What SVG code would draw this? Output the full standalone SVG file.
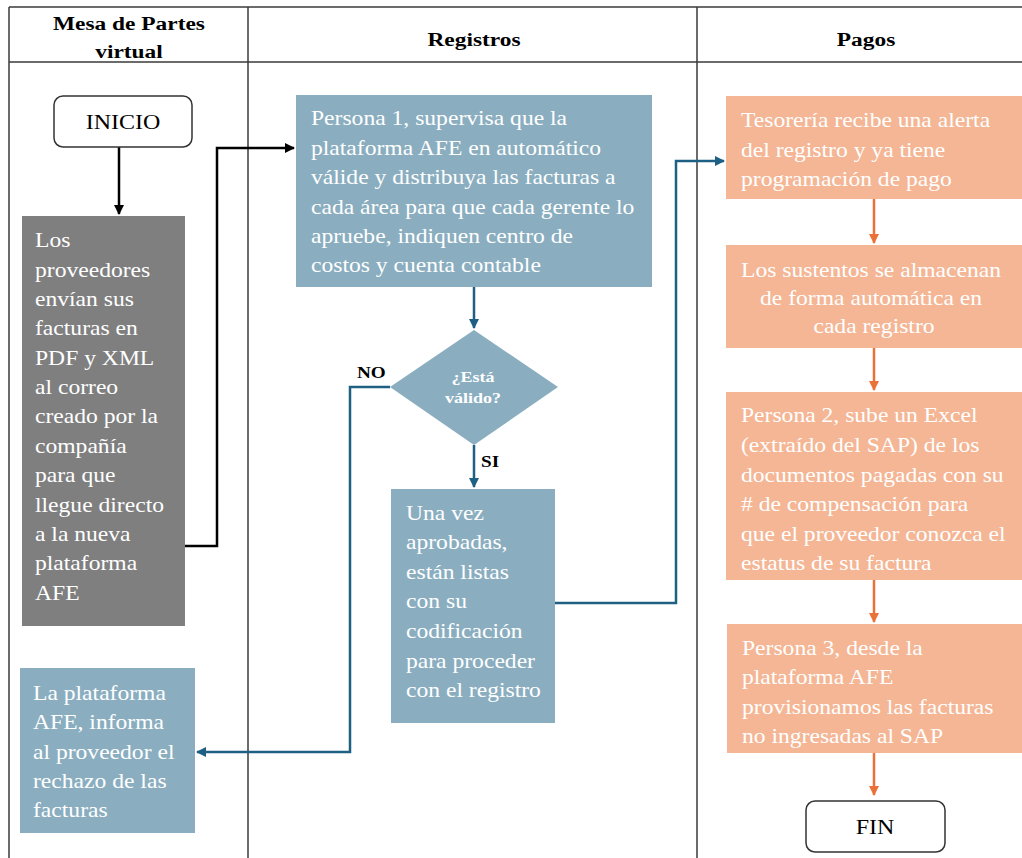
<svg xmlns="http://www.w3.org/2000/svg" width="1022" height="858" viewBox="0 0 1022 858">
<style>
.grid{stroke:#3a3a3a;stroke-width:1.5;fill:none}
text{font-family:"Liberation Serif","Times New Roman",serif}
.hd{font-weight:bold;font-size:19.5px;fill:#000;text-anchor:middle}
.tw{font-size:20px;fill:#fff}
.tc{font-size:20px;fill:#fff;text-anchor:middle}
.tb{font-size:20px;fill:#000;text-anchor:middle}
.lab{font-weight:bold;font-size:16px;fill:#000}
.dl{font-weight:bold;font-size:15px;fill:#fff;text-anchor:middle}
.gray{fill:#7f7f7f}
.blue{fill:#8aaec0}
.orng{fill:#f4b695}
.term{fill:#fff;stroke:#333;stroke-width:1.5}
.ck{stroke:#000;stroke-width:2.5;fill:none}
.cb{stroke:#1e5f84;stroke-width:2.5;fill:none}
.co{stroke:#ea7137;stroke-width:2.5;fill:none}
</style>
<defs>
<marker id="ak" markerWidth="10" markerHeight="10" refX="9" refY="5" orient="auto" markerUnits="userSpaceOnUse"><path d="M0,0 L10,5 L0,10 z" fill="#000"/></marker>
<marker id="ab" markerWidth="10" markerHeight="10" refX="9" refY="5" orient="auto" markerUnits="userSpaceOnUse"><path d="M0,0 L10,5 L0,10 z" fill="#1e5f84"/></marker>
<marker id="ao" markerWidth="10" markerHeight="10" refX="9" refY="5" orient="auto" markerUnits="userSpaceOnUse"><path d="M0,0 L10,5 L0,10 z" fill="#ea7137"/></marker>
</defs>
<rect width="1022" height="858" fill="#fff"/>
<g id="lanes">
<line class="grid" x1="9" y1="7" x2="1022" y2="7"/>
<line class="grid" x1="9" y1="62" x2="1022" y2="62"/>
<line class="grid" x1="9" y1="7" x2="9" y2="858"/>
<line class="grid" x1="248" y1="7" x2="248" y2="858"/>
<line class="grid" x1="697" y1="7" x2="697" y2="858"/>
<text class="hd" transform="matrix(1.2 0 0 1 129 0)"><tspan x="0" y="30">Mesa de Partes</tspan><tspan x="0" y="58">virtual</tspan></text>
<text class="hd" transform="matrix(1.2 0 0 1 474 0)" x="0" y="46">Registros</text>
<text class="hd" transform="matrix(1.2 0 0 1 866 0)" x="0" y="46">Pagos</text>
</g>
<g id="connectors">
<path class="ck" d="M119,147 V214" marker-end="url(#ak)"/>
<path class="ck" d="M185,546 H217 V148 H294" marker-end="url(#ak)"/>
<path class="cb" d="M474,287 V328" marker-end="url(#ab)"/>
<path class="cb" d="M474,445 V487" marker-end="url(#ab)"/>
<path class="cb" d="M390,387 H350 V752 H197" marker-end="url(#ab)"/>
<path class="cb" d="M555,603 H676 V161 H724" marker-end="url(#ab)"/>
<path class="co" d="M874,199 V243" marker-end="url(#ao)"/>
<path class="co" d="M874,348 V390" marker-end="url(#ao)"/>
<path class="co" d="M874,580 V622" marker-end="url(#ao)"/>
<path class="co" d="M874,753 V795" marker-end="url(#ao)"/>
<text class="lab" transform="matrix(1.2 0 0 1 357 0)" x="0" y="378">NO</text>
<text class="lab" transform="matrix(1.2 0 0 1 481 0)" x="0" y="467">SI</text>
</g>
<g id="inicio">
<rect class="term" x="54" y="96" width="138" height="51" rx="9"/>
<text class="tb" transform="matrix(1.2 0 0 1 123 0)" x="0" y="129">INICIO</text>
</g>
<g id="proveedores">
<rect class="gray" x="22" y="216" width="163" height="410"/>
<text class="tw" transform="matrix(1.18 0 0 1 35 0)">
<tspan x="0" y="247">Los</tspan>
<tspan x="0" y="277">proveedores</tspan>
<tspan x="0" y="306">envían sus</tspan>
<tspan x="0" y="335">facturas en</tspan>
<tspan x="0" y="365">PDF y XML</tspan>
<tspan x="0" y="394">al correo</tspan>
<tspan x="0" y="423">creado por la</tspan>
<tspan x="0" y="453">compañía</tspan>
<tspan x="0" y="482">para que</tspan>
<tspan x="0" y="512">llegue directo</tspan>
<tspan x="0" y="541">a la nueva</tspan>
<tspan x="0" y="570">plataforma</tspan>
<tspan x="0" y="600">AFE</tspan>
</text>
</g>
<g id="rechazo">
<rect class="blue" x="20" y="668" width="175" height="165"/>
<text class="tw" transform="matrix(1.18 0 0 1 33 0)">
<tspan x="0" y="700">La plataforma</tspan>
<tspan x="0" y="729">AFE, informa</tspan>
<tspan x="0" y="759">al proveedor el</tspan>
<tspan x="0" y="788">rechazo de las</tspan>
<tspan x="0" y="817">facturas</tspan>
</text>
</g>
<g id="persona1">
<rect class="blue" x="296" y="95" width="356" height="192"/>
<text class="tw" transform="matrix(1.18 0 0 1 311 0)">
<tspan x="0" y="125">Persona 1, supervisa que la</tspan>
<tspan x="0" y="155">plataforma AFE en automático</tspan>
<tspan x="0" y="184">válide y distribuya las facturas a</tspan>
<tspan x="0" y="214">cada área para que cada gerente lo</tspan>
<tspan x="0" y="243">apruebe, indiquen centro de</tspan>
<tspan x="0" y="272">costos y cuenta contable</tspan>
</text>
</g>
<g id="decision">
<polygon class="blue" points="474,330 558,387 474,445 390,387"/>
<text class="dl" transform="matrix(1.2 0 0 1 473 0)"><tspan x="0" y="382">¿Está</tspan><tspan x="0" y="403">válido?</tspan></text>
</g>
<g id="aprobadas">
<rect class="blue" x="391" y="489" width="164" height="234"/>
<text class="tw" transform="matrix(1.18 0 0 1 406 0)">
<tspan x="0" y="520">Una vez</tspan>
<tspan x="0" y="549">aprobadas,</tspan>
<tspan x="0" y="579">están listas</tspan>
<tspan x="0" y="608">con su</tspan>
<tspan x="0" y="638">codificación</tspan>
<tspan x="0" y="668">para proceder</tspan>
<tspan x="0" y="697">con el registro</tspan>
</text>
</g>
<g id="tesoreria">
<rect class="orng" x="726" y="96" width="296" height="103"/>
<text class="tw" transform="matrix(1.18 0 0 1 741 0)">
<tspan x="0" y="127">Tesorería recibe una alerta</tspan>
<tspan x="0" y="157">del registro y ya tiene</tspan>
<tspan x="0" y="186">programación de pago</tspan>
</text>
</g>
<g id="sustentos">
<rect class="orng" x="726" y="245" width="296" height="103"/>
<text class="tc" transform="matrix(1.18 0 0 1 874 0)">
<tspan x="0" y="277">Los sustentos se almacenan</tspan>
<tspan x="0" y="305">de forma automática en</tspan>
<tspan x="0" y="333">cada registro</tspan>
</text>
</g>
<g id="persona2">
<rect class="orng" x="726" y="392" width="296" height="188"/>
<text class="tw" transform="matrix(1.18 0 0 1 741 0)">
<tspan x="0" y="422">Persona 2, sube un Excel</tspan>
<tspan x="0" y="452">(extraído del SAP) de los</tspan>
<tspan x="0" y="482">documentos pagadas con su</tspan>
<tspan x="0" y="511"># de compensación para</tspan>
<tspan x="0" y="541">que el proveedor conozca el</tspan>
<tspan x="0" y="570">estatus de su factura</tspan>
</text>
</g>
<g id="persona3">
<rect class="orng" x="727" y="624" width="295" height="129"/>
<text class="tw" transform="matrix(1.18 0 0 1 742 0)">
<tspan x="0" y="655">Persona 3, desde la</tspan>
<tspan x="0" y="684">plataforma AFE</tspan>
<tspan x="0" y="714">provisionamos las facturas</tspan>
<tspan x="0" y="743">no ingresadas al SAP</tspan>
</text>
</g>
<g id="fin">
<rect class="term" x="806" y="801" width="139" height="51" rx="9"/>
<text class="tb" transform="matrix(1.2 0 0 1 875 0)" x="0" y="834">FIN</text>
</g>
</svg>
